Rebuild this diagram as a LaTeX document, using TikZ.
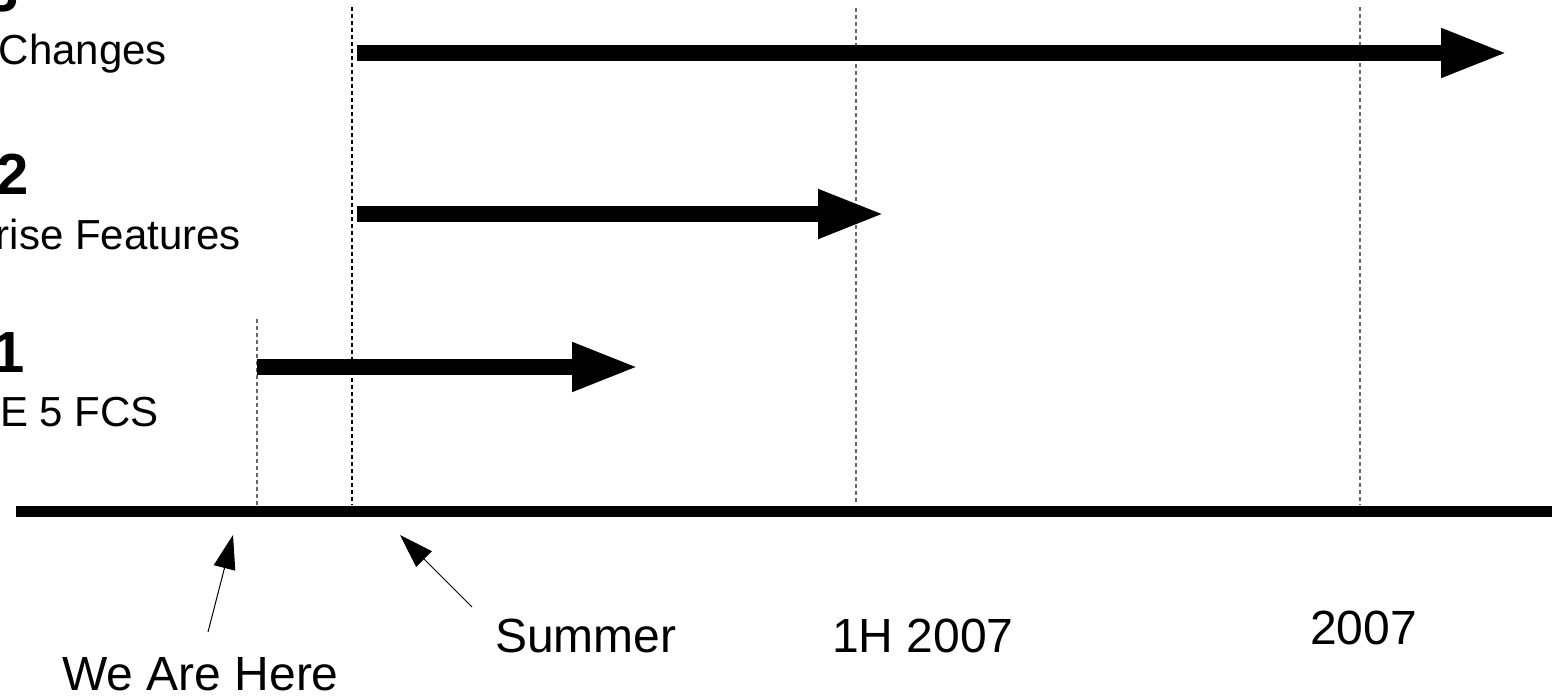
\documentclass[tikz,border=0pt]{standalone}
\usepackage{fontspec}
\setmainfont{Liberation Sans}
\usetikzlibrary{arrows.meta}
\begin{document}
\begin{tikzpicture}[x=1pt,y=-1pt,
  lbl/.style={inner sep=0pt,font=\fontsize{48}{50}\selectfont},
  toplbl/.style={inner sep=0pt,anchor=base east,font=\fontsize{42}{45}\selectfont},
  numlbl/.style={inner sep=0pt,anchor=base east,font=\fontsize{58}{60}\selectfont\bfseries},
  guide/.style={dash pattern=on 4pt off 3pt,line width=1.3pt,black!75},
  bigarrow/.style={line width=16pt,-{Triangle[length=67pt,width=45pt]}},
  pointer/.style={line width=1pt,-{Triangle[length=34pt,width=22pt]}},
  axisline/.style={line width=11pt}]
\useasboundingbox (0,0) rectangle (1556,700);
\clip (0,0) rectangle (1556,700);
% axis
\coordinate (axL) at (16,511);
\coordinate (axR) at (1552,511);
\draw[axisline] (axL) -- (axR);
% guides
\coordinate (g1t) at (257,319); \coordinate (g1b) at (257,505);
\coordinate (g2t) at (352,7);   \coordinate (g2b) at (352,505);
\coordinate (g3t) at (856,8);   \coordinate (g3b) at (856,505);
\coordinate (g4t) at (1360,7);  \coordinate (g4b) at (1360,505);
\draw[guide,black!60] (g1t) -- (g1b);
\draw[guide,black] (g2t) -- (g2b);
\draw[guide,black!60] (g3t) -- (g3b);
\draw[guide,black!60] (g4t) -- (g4b);
% phase arrows
\coordinate (a3s) at (357,53);  \coordinate (a3e) at (1508,53);
\coordinate (a2s) at (357,214); \coordinate (a2e) at (885,214);
\coordinate (a1s) at (257,367); \coordinate (a1e) at (639,367);
\draw[bigarrow] (a3s) -- (a3e);
\draw[bigarrow] (a2s) -- (a2e);
\draw[bigarrow] (a1s) -- (a1e);
% phase labels (cut at the left edge)
\node[numlbl] (n3) at (19,12) {3};
\node[toplbl] (t3) at (167,65) {Changes};
\node[numlbl] (n2) at (29,195) {2};
\node[toplbl] (t2) at (241,250) {rise Features};
\node[numlbl] (n1) at (25,373) {1};
\node[toplbl] (t1) at (159,427) {E 5 FCS};
% bottom labels
\node[lbl,anchor=base west] (here) at (62,690) {We Are Here};
\node[lbl,anchor=base west] (summer) at (495,652) {Summer};
\node[lbl,anchor=base west] (h1) at (832,652) {1H 2007};
\node[lbl,anchor=base west] (y07) at (1310,644) {2007};
% pointers
\coordinate (hereS) at (208,632); \coordinate (hereT) at (233,535);
\coordinate (sumS) at (472,607);  \coordinate (sumT) at (400,535);
\draw[pointer] (hereS) -- (hereT);
\draw[pointer] (sumS) -- (sumT);
\end{tikzpicture}
\end{document}
